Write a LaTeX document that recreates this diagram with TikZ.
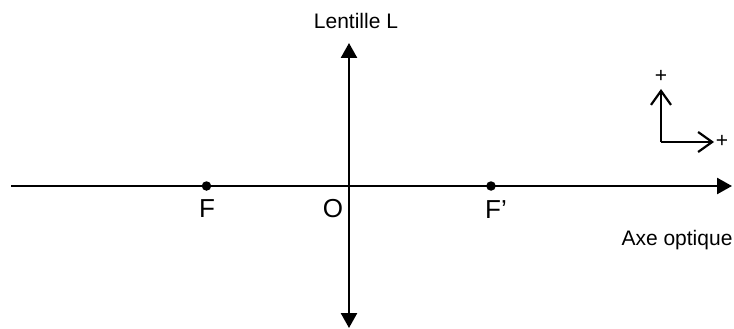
\documentclass[tikz,border=0pt]{standalone}
\usepackage{fontspec}
\setmainfont{Liberation Sans}
\usetikzlibrary{arrows.meta}
\begin{document}
\begin{tikzpicture}[x=1pt,y=-1pt,
  mainline/.style={line width=2.5pt},
  solidtip/.style={-{Triangle[length=15pt,width=16pt]}},
  frameline/.style={line width=2.2pt,-{Straight Barb[length=14pt,width=20pt,line width=2.2pt]}},
  biglabel/.style={anchor=base,inner sep=0pt,font=\fontsize{26}{30}\selectfont},
  midlabel/.style={anchor=base,inner sep=0pt,font=\fontsize{21}{25}\selectfont},
  pluslabel/.style={inner sep=0pt,font=\fontsize{21}{25}\selectfont},
  focusdot/.style={circle,fill=black,inner sep=0pt,minimum size=9.5pt}]
\useasboundingbox (0,0) rectangle (734,329);
% axis
\coordinate (axL) at (11,186);
\coordinate (axR) at (732,186);
\draw[mainline,solidtip] (axL) -- (axR);
% lens
\coordinate (lensT) at (349,43);
\coordinate (lensB) at (349,328);
\draw[mainline,{Triangle[length=15pt,width=16pt]}-{Triangle[length=15pt,width=16pt]}] (lensB) -- (lensT);
% focal points
\node[focusdot] (Fdot) at (206.5,186) {};
\node[focusdot] (Fpdot) at (491,186) {};
% labels
\node[biglabel] (Flab) at (207,217) {F};
\node[biglabel] (Olab) at (333,217) {O};
\node[biglabel] (Fplab) at (496,218) {F’};
\node[midlabel] (lenslab) at (356,29) {Lentille L};
\node[midlabel] (axlab) at (677,245) {Axe optique};
% orientation frame
\coordinate (corner) at (661,142);
\coordinate (upT) at (661,89);
\coordinate (rtT) at (714,142);
\draw[frameline] (corner) -- (upT);
\draw[frameline] (corner) -- (rtT);
\node[pluslabel] (plusU) at (661,76.5) {+};
\node[pluslabel] (plusR) at (722,141.5) {+};
\end{tikzpicture}
\end{document}
